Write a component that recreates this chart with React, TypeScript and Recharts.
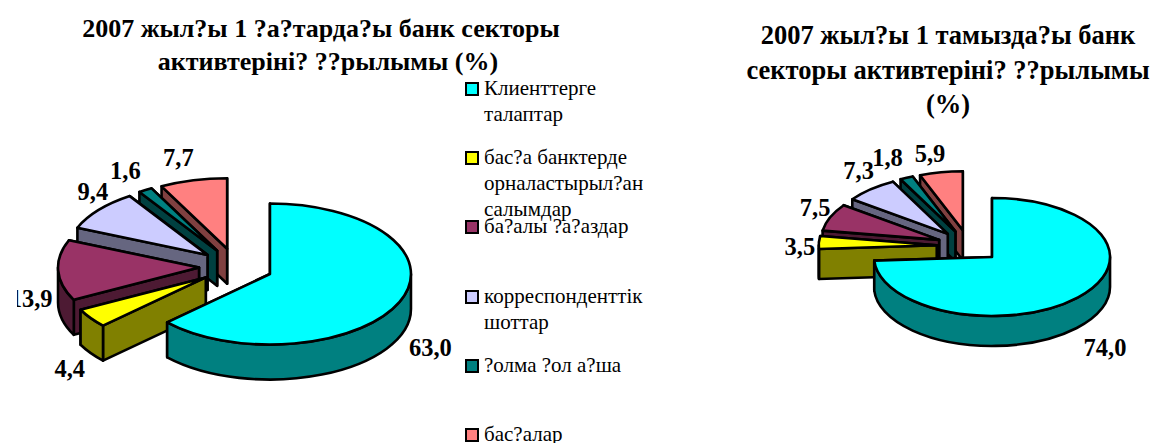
import React from 'react';
import { PieChart, Pie } from 'recharts';

const FONT = '"Liberation Serif", serif';

const CATEGORIES = [
  ['Клиенттерге', 'талаптар'],
  ['бас?а банктерде', 'орналастырыл?ан', 'салымдар'],
  ['ба?алы ?а?аздар'],
  ['корреспонденттік', 'шоттар'],
  ['?олма ?ол а?ша'],
  ['бас?алар'],
];
const COLORS = ['#00ffff', '#ffff00', '#993366', '#ccccff', '#008080', '#ff8080'];

const JAN_VALUES = [63.0, 4.4, 13.9, 9.4, 1.6, 7.7];
const AUG_VALUES = [74.0, 3.5, 7.5, 7.3, 1.8, 5.9];

const JAN_TITLE = ['2007 жыл?ы 1 ?а?тарда?ы банк секторы', 'активтерінi? ??рылымы (%)'];
const AUG_TITLE = ['2007 жыл?ы 1 тамызда?ы банк', 'секторы активтерінi? ??рылымы', '(%)'];

// label nudges from the rim of each slice, same order as the values
const JAN_NUDGE = [[31, 45], [-21, 50], [-27, 28], [-6, -18], [-20, -20], [-15, -23]];
const AUG_NUDGE = [[27, 50], [-19, 4], [-15, -10], [-12, -19], [-19, -20], [-11, -19]];

const TILT = 0.5;

const rad = (a: number) => (a * Math.PI) / 180;
const halfTone = (hex: string) => {
  const n = parseInt(hex.slice(1), 16);
  const c = [(n >> 16) & 255, (n >> 8) & 255, n & 255].map((v) => Math.round(v / 2));
  return `rgb(${c.join(',')})`;
};

// painted from the back to the front, so the first category comes last
const toRows = (values: number[]) =>
  values
    .map((value, i) => ({ name: CATEGORIES[i].join(' '), value, fill: COLORS[i], order: i }))
    .reverse();

function slice3d(explode: number, depth: number) {
  return (props: any) => {
    const { cx, cy, outerRadius: r, startAngle, endAngle, midAngle, fill } = props;
    const ry = r * TILT;
    const ox = cx + explode * Math.cos(rad(midAngle));
    const oy = cy - explode * TILT * Math.sin(rad(midAngle));
    const pt = (a: number, dy = 0) =>
      `${ox + r * Math.cos(rad(a))} ${oy - ry * Math.sin(rad(a)) + dy}`;
    const apex = `${ox} ${oy}`;
    const apexLow = `${ox} ${oy + depth}`;
    const large = endAngle - startAngle > 180 ? 1 : 0;
    const top = `M${apex} L${pt(startAngle)} A${r} ${ry} 0 ${large} 0 ${pt(endAngle)} Z`;
    const wall = halfTone(fill);

    // only the part of the rim turned to the viewer gets a wall
    const from = Math.max(startAngle, 180);
    const to = Math.min(endAngle, 360);
    const rim =
      to > from
        ? `M${pt(from)} A${r} ${ry} 0 0 0 ${pt(to)} L${pt(to, depth)} A${r} ${ry} 0 0 1 ${pt(from, depth)} Z`
        : null;

    const line = { stroke: '#000', strokeWidth: 2.6, strokeLinejoin: 'round' as const };
    return (
      <g>
        <path d={`M${apex} L${pt(startAngle)} L${pt(startAngle, depth)} L${apexLow} Z`} fill={wall} {...line} />
        <path d={`M${apex} L${pt(endAngle)} L${pt(endAngle, depth)} L${apexLow} Z`} fill={wall} {...line} />
        {rim && <path d={rim} fill={wall} {...line} />}
        <path d={top} fill={fill} {...line} />
      </g>
    );
  };
}

function sliceLabel(explode: number, nudge: number[][]) {
  return (props: any) => {
    const { cx, cy, outerRadius, midAngle, value, payload } = props;
    const reach = outerRadius + explode;
    const [dx, dy] = nudge[payload.order];
    return (
      <text
        x={cx + reach * Math.cos(rad(midAngle)) + dx}
        y={cy - reach * TILT * Math.sin(rad(midAngle)) + dy}
        textAnchor="middle"
        dominantBaseline="central"
        fontFamily={FONT}
        fontWeight="bold"
        fontSize={24.5}
        fill="#000"
      >
        {value.toFixed(1).replace('.', ',')}
      </text>
    );
  };
}

function Pie3d({ values, left, width, cx, cy, r, explode, depth, nudge }: any) {
  return (
    <div style={{ position: 'absolute', left, top: 0 }}>
      <PieChart width={width} height={443} margin={{ top: 0, right: 0, bottom: 0, left: 0 }} accessibilityLayer={false}>
        <Pie
          data={toRows(values)}
          dataKey="value"
          cx={cx - left}
          cy={cy}
          innerRadius={0}
          outerRadius={r}
          startAngle={90}
          endAngle={450}
          paddingAngle={0}
          isAnimationActive={false}
          shape={slice3d(explode, depth)}
          label={sliceLabel(explode, nudge)}
          labelLine={false}
        />
      </PieChart>
    </div>
  );
}

function Title({ lines, center, top, size, leading, spacing }: any) {
  return (
    <div style={{ position: 'absolute', left: center - 300, width: 600, top, textAlign: 'center', fontFamily: FONT, fontWeight: 'bold', fontSize: size, lineHeight: `${leading}px`, color: '#000' }}>
      {lines.map((l: string, i: number) => (
        <div key={l} style={{ paddingLeft: i * spacing }}>{l}</div>
      ))}
    </div>
  );
}

function LegendBox() {
  return (
    <div style={{ position: 'absolute', left: 465, top: 0, fontFamily: FONT, fontSize: 21, lineHeight: '26px', color: '#000' }}>
      {CATEGORIES.map((lines, i) => (
        <div key={lines[0]} style={{ position: 'absolute', left: 0, top: 75 + i * 69.2, width: 200 }}>
          <div style={{ position: 'absolute', left: 0, top: 7, width: 10, height: 10, background: COLORS[i], border: '2px solid #000' }} />
          <div style={{ position: 'absolute', left: 19, top: 0, whiteSpace: 'nowrap' }}>
            {lines.map((l) => (
              <div key={l}>{l}</div>
            ))}
          </div>
        </div>
      ))}
    </div>
  );
}

export default function App() {
  return (
    <div style={{ position: 'absolute', left: 0, top: 0, width: 1150, height: 443, overflow: 'hidden', background: '#fff' }}>
      <Pie3d values={JAN_VALUES} left={17} width={443} cx={236} cy={266.7} r={141} explode={37} depth={35} nudge={JAN_NUDGE} />
      <Pie3d values={AUG_VALUES} left={700} width={450} cx={968.7} cy={246} r={118} explode={32} depth={30} nudge={AUG_NUDGE} />
      <Title lines={JAN_TITLE} center={321} top={12} size={26} leading={33} spacing={14} />
      <Title lines={AUG_TITLE} center={948} top={18} size={26.5} leading={34.5} spacing={0} />
      <LegendBox />
    </div>
  );
}
